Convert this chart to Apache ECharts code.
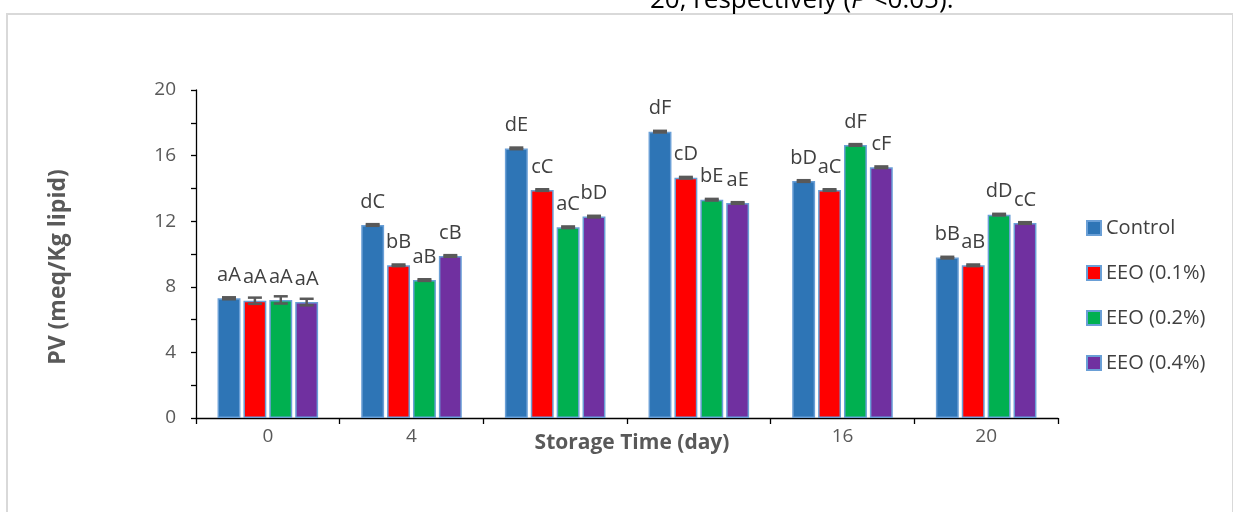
<!DOCTYPE html>
<html>
<head>
<meta charset="utf-8">
<script src="https://cdn.jsdelivr.net/npm/echarts@6/dist/echarts.min.js"></script>
<style>
html,body{margin:0;padding:0;background:#fff;}
#chart{width:1233px;height:512px;}
</style>
</head>
<body>
<div id="chart"></div>
<script>
// ---- data ----
const categories = ['0', '4', '8', '12', '16', '20'];
const seriesNames = ['Control', 'EEO (0.1%)', 'EEO (0.2%)', 'EEO (0.4%)'];
const controlValues = [7.30, 11.77, 16.44, 17.46, 14.45, 9.78];
const eeo01Values   = [7.15, 9.31, 13.90, 14.65, 13.90, 9.31];
const eeo02Values   = [7.20, 8.41, 11.63, 13.31, 16.65, 12.40];
const eeo04Values   = [7.07, 9.88, 12.28, 13.11, 15.29, 11.89];
const controlErrors = [0.06, 0.05, 0.05, 0.05, 0.05, 0.05];
const eeo01Errors   = [0.19, 0.05, 0.05, 0.05, 0.05, 0.05];
const eeo02Errors   = [0.22, 0.05, 0.05, 0.05, 0.05, 0.05];
const eeo04Errors   = [0.20, 0.05, 0.05, 0.05, 0.05, 0.05];
const controlLabels = ['aA', 'dC', 'dE', 'dF', 'bD', 'bB'];
const eeo01Labels   = ['aA', 'bB', 'cC', 'cD', 'aC', 'aB'];
const eeo02Labels   = ['aA', 'aB', 'aC', 'bE', 'dF', 'dD'];
const eeo04Labels   = ['aA', 'cB', 'bD', 'aE', 'cF', 'cC'];
const yTicks = [0, 4, 8, 12, 16, 20];

// ---- style ----
const colors = ['#2e75b6', '#ff0000', '#00b050', '#7030a0'];
const FONT = '"Open Sans", sans-serif';
const catGap = 0.30, barGap = 0.13;

const values = [controlValues, eeo01Values, eeo02Values, eeo04Values];
const errors = [controlErrors, eeo01Errors, eeo02Errors, eeo04Errors];
const labels = [controlLabels, eeo01Labels, eeo02Labels, eeo04Labels];

const chart = echarts.init(document.getElementById('chart'));

const barSeries = seriesNames.map((name, si) => ({
  name: name,
  type: 'bar',
  barGap: (barGap * 100) + '%',
  barCategoryGap: (catGap * 100) + '%',
  itemStyle: { color: colors[si], borderColor: '#6a9fd6', borderWidth: 1.5 },
  label: {
    show: true,
    position: 'top',
    distance: 13,
    color: '#404040',
    fontFamily: FONT,
    fontSize: 20,
    formatter: p => labels[si][p.dataIndex]
  },
  data: values[si]
}));

const errorSeries = seriesNames.map((name, si) => ({
  name: name + ' err',
  type: 'custom',
  z: 5,
  renderItem: function (params, api) {
    const ci = api.value(0), v = api.value(1), e = api.value(2);
    const catW = api.size([1, 0])[0];
    const n = seriesNames.length;
    const bw = catW * (1 - catGap) / (n + (n - 1) * barGap);
    const off = (si - (n - 1) / 2) * bw * (1 + barGap);
    const top = api.coord([ci, v + e]);
    const bot = api.coord([ci, v - e]);
    const x = top[0] + off;
    const cap = 7;
    const st = { stroke: '#595959', lineWidth: 2.5 };
    return {
      type: 'group',
      children: [
        { type: 'line', shape: { x1: x, y1: top[1], x2: x, y2: bot[1] }, style: st },
        { type: 'line', shape: { x1: x - cap, y1: top[1], x2: x + cap, y2: top[1] }, style: st },
        { type: 'line', shape: { x1: x - cap, y1: bot[1], x2: x + cap, y2: bot[1] }, style: st }
      ]
    };
  },
  data: values[si].map((v, i) => [i, v, errors[si][i]])
}));

chart.setOption({
  animation: false,
  backgroundColor: '#fff',
  grid: { left: 196, right: 175, top: 90, bottom: 94 },
  legend: {
    data: seriesNames,
    orient: 'vertical',
    left: 1081,
    top: 213,
    itemWidth: 14,
    itemHeight: 14,
    itemGap: 25,
    icon: 'rect',
    textStyle: { color: '#404040', fontFamily: FONT, fontSize: 20, lineHeight: 20 }
  },
  xAxis: {
    type: 'category',
    data: categories,
    axisLine: { lineStyle: { color: '#000', width: 1.3 } },
    axisTick: { show: true, length: 6, lineStyle: { color: '#000', width: 1.3 } },
    axisLabel: { color: '#595959', fontFamily: FONT, fontSize: 19, margin: 9 },
    splitLine: { show: false }
  },
  yAxis: {
    type: 'value',
    min: 0,
    max: 20,
    interval: 4,
    axisLine: { show: true, lineStyle: { color: '#000', width: 1.3 } },
    axisTick: { show: true, length: 5, lineStyle: { color: '#000', width: 1.3 } },
    minorTick: { show: true, splitNumber: 2, length: 5, lineStyle: { color: '#000', width: 1.3 } },
    axisLabel: {
      color: '#595959', fontFamily: FONT, fontSize: 19, margin: 20,
      formatter: v => (yTicks.indexOf(v) >= 0 ? String(v) : '')
    },
    splitLine: { show: false }
  },
  graphic: [
    { type: 'rect', silent: true, shape: { x: 7, y: 14, width: 1226, height: 520 },
      style: { fill: 'none', stroke: '#d9d9d9', lineWidth: 2 } },
    { type: 'text', silent: true, x: 650, y: 14,
      style: { text: '20, respectively ({i|P} <0.05).', fill: '#000', font: '26px ' + FONT,
               verticalAlign: 'bottom', rich: { i: { fontStyle: 'italic', fontSize: 26, fontFamily: FONT } } } },
    { type: 'rect', silent: true, z: 99, shape: { x: 527, y: 425, width: 210, height: 34 },
      style: { fill: '#fff' } },
    { type: 'text', silent: true, z: 100, x: 632, y: 443,
      style: { text: 'Storage Time (day)', fill: '#595959', font: 'bold 21px ' + FONT,
               align: 'center', verticalAlign: 'middle' } },
    { type: 'text', silent: true, x: 58, y: 267, rotation: Math.PI / 2,
      style: { text: 'PV (meq/Kg lipid)', fill: '#595959', font: 'bold 23px ' + FONT,
               align: 'center', verticalAlign: 'middle' } }
  ],
  series: barSeries.concat(errorSeries)
});
</script>
</body>
</html>
